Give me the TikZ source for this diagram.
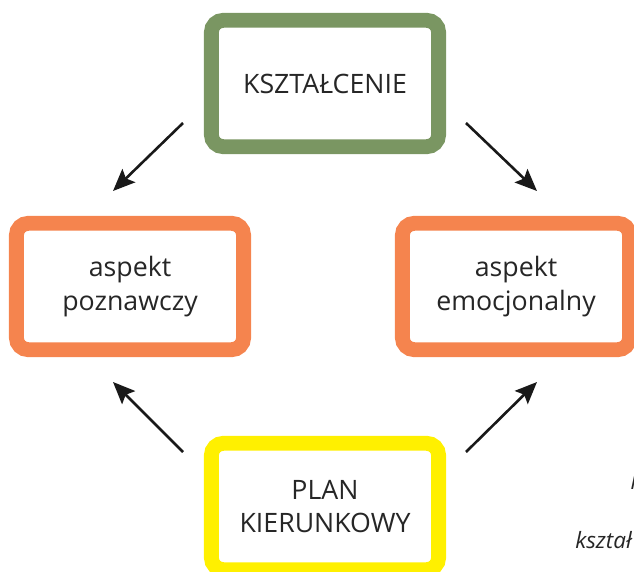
\documentclass[tikz,border=0pt]{standalone}
\usepackage{fontspec}
\setmainfont{Open Sans}
\usetikzlibrary{arrows.meta}

\definecolor{ksztgreen}{RGB}{122,150,98}
\definecolor{asporange}{RGB}{245,132,78}
\definecolor{planyellow}{RGB}{255,240,0}

\begin{document}
\begin{tikzpicture}[
  x=0.025cm, y=-0.025cm,
  font=\fontsize{19}{24}\selectfont,
  box/.style={draw,line width=0.37cm,rounded corners=0.3cm,fill=white,
              minimum width=5.68cm,minimum height=3.16cm,align=center,
              inner sep=0pt,text=black!85},
  greenbox/.style={box,draw=ksztgreen},
  orangebox/.style={box,draw=asporange},
  yellowbox/.style={box,draw=planyellow},
  caption/.style={font=\fontsize{16}{19}\selectfont\itshape,text=black!85,inner sep=0pt},
  arr/.style={-{Stealth[length=0.55cm,width=0.46cm,inset=0.1cm]},line width=0.065cm,black!90},
]
\clip (0,0) rectangle (634,572);

% ---- Boxes ------------------------------------------------------------------
\node[greenbox]  (kszt) at (325,83.5)  {KSZTAŁCENIE};
\node[orangebox] (pozn) at (130,286.5) {aspekt\\poznawczy};
\node[orangebox] (emoc) at (516,286.5) {aspekt\\emocjonalny};
\node[yellowbox] (plan) at (325,506.5) {PLAN\\KIERUNKOWY};

% ---- Arrow ends -------------------------------------------------------------
\coordinate (ksztL) at (183,123);
\coordinate (ksztR) at (466,123);
\coordinate (poznT) at (113,191);
\coordinate (emocT) at (537,191);
\coordinate (poznB) at (113,382);
\coordinate (emocB) at (537,382);
\coordinate (planL) at (183,452);
\coordinate (planR) at (466,452);

\foreach \from/\to in {ksztL/poznT, ksztR/emocT, planL/poznB, planR/emocB}{
  \draw[arr] (\from) -- (\to);
}

% ---- Cut-off caption at the right edge --------------------------------------
\node[caption,anchor=base west] (capA) at (630,489) {I};
\node[caption,anchor=base west] (capB) at (575,548) {kształ};

\end{tikzpicture}
\end{document}
